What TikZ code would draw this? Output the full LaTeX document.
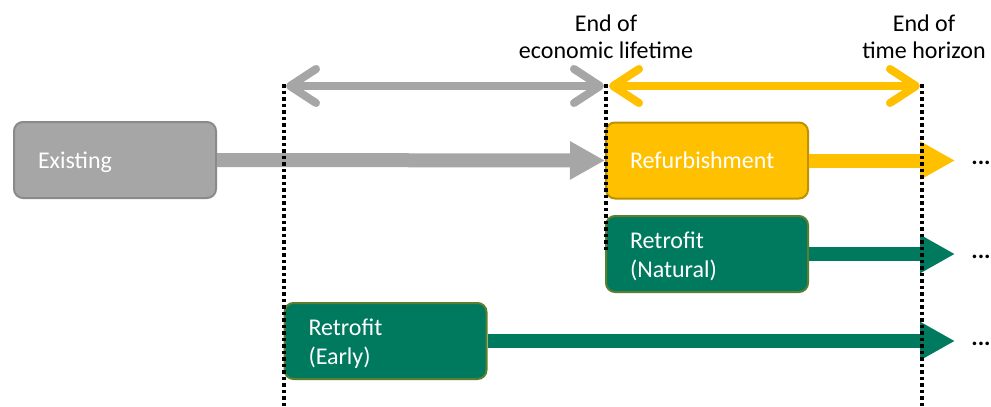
\documentclass[tikz,border=0pt]{standalone}
\usepackage{fontspec}
\setmainfont{Carlito}
\usetikzlibrary{arrows.meta}

\definecolor{existfill}{HTML}{A6A6A6}
\definecolor{existline}{HTML}{8A8A8A}
\definecolor{refurbfill}{HTML}{FFC000}
\definecolor{refurbline}{HTML}{BF9000}
\definecolor{retrofill}{HTML}{007A5E}
\definecolor{retroline}{HTML}{5B7F2F}

\tikzset{
  phasebox/.style={rectangle, rounded corners=9pt, line width=2pt,
    minimum height=76pt, text width=154pt, inner xsep=24pt, inner ysep=0pt,
    align=left, text=white, font=\fontsize{24}{29.5}\selectfont,
    execute at end node={\par\kern-5pt}},
  existbox/.style={phasebox, fill=existfill, draw=existline},
  refurbbox/.style={phasebox, fill=refurbfill, draw=refurbline},
  retrobox/.style={phasebox, fill=retrofill, draw=retroline},
  flow/.style={line width=14pt, -{Triangle[length=35pt,width=36pt]}},
  span/.style={line width=8pt, line cap=round,
    {Straight Barb[length=26pt,width=34pt,line cap=round,round]}-{Straight Barb[length=26pt,width=34pt,line cap=round,round]}},
  marker/.style={black, line width=3.5pt, dash pattern=on 3.5pt off 3pt},
  heading/.style={align=center, font=\fontsize{24}{27}\selectfont},
  more/.style={font=\fontsize{24}{28}\selectfont\bfseries, inner sep=0pt}
}

\begin{document}
\begin{tikzpicture}[x=1pt, y=-1pt]
  \useasboundingbox (0,0) rectangle (991,407);

  % milestone positions
  \coordinate (t0top) at (284,84);
  \coordinate (t0bot) at (284,407);
  \coordinate (t1top) at (606,84);
  \coordinate (t1bot) at (606,252);
  \coordinate (t2top) at (922,84);
  \coordinate (t2bot) at (922,407);

  % headings
  \node[heading] (hlife) at (606,37) {End of\\economic lifetime};
  \node[heading] (hhorizon) at (924,37) {End of\\time horizon};

  % phase boxes
  \node[existbox] (exist) at (115,160) {Existing};
  \node[refurbbox] (refurb) at (707,160.5) {Refurbishment};
  \node[retrobox] (natural) at (707,254) {Retrofit\\(Natural)};
  \node[retrobox] (early) at (385.5,341) {Retrofit\\(Early)};

  % continuation marks
  \node[more] (m1) at (981,163) {...};
  \node[more] (m2) at (981,257) {...};
  \node[more] (m3) at (981,344) {...};
  \coordinate (e1) at (955,160.5);
  \coordinate (e2) at (955,254);
  \coordinate (e3) at (955,341);

  % flows
  \draw[flow, existfill] (exist.east) -- (refurb.west);
  \draw[flow, refurbfill] (refurb.east) -- (e1);
  \draw[flow, retrofill] (natural.east) -- (e2);
  \draw[flow, retrofill] (early.east) -- (e3);

  % spans between milestones
  \coordinate (s0) at (286,86);
  \coordinate (s1) at (604,86);
  \coordinate (s2) at (609,86);
  \coordinate (s3) at (920,86);
  \draw[span, existfill] (s0) -- (s1);
  \draw[span, refurbfill] (s2) -- (s3);

  % milestone markers
  \draw[marker] (t0top) -- (t0bot);
  \draw[marker] (t1top) -- (t1bot);
  \draw[marker] (t2top) -- (t2bot);
\end{tikzpicture}
\end{document}
